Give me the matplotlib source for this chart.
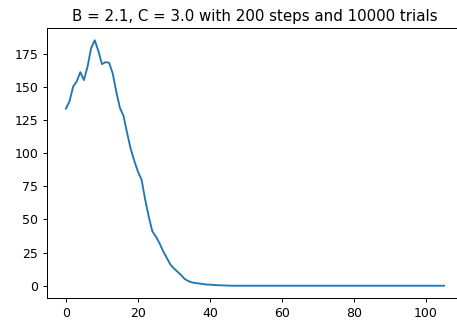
import numpy as np
import matplotlib
matplotlib.use("Agg")
import matplotlib.pyplot as plt

# Mean population per step, averaged over trials
head = [133.5, 139, 150, 154, 161, 155, 165, 179, 185, 177,
        167, 168.5, 168, 160, 146, 134, 128, 115, 103, 94,
        86, 80, 65, 52, 41, 37, 32, 26, 21, 16,
        13, 10.5, 8, 5, 3.5, 2.5, 2, 1.7, 1.3, 0.9,
        0.8, 0.6, 0.4, 0.3, 0.2, 0.1]
tail = [0.0] * (106 - len(head))
population = head + tail
steps = list(range(len(population)))

title = "B = 2.1, C = 3.0 with 200 steps and 10000 trials"

DPI = 90
fig = plt.figure(figsize=(457 / DPI, 322 / DPI), dpi=DPI)
ax = fig.add_axes([47 / 457, 24 / 322, 416 / 457, 270 / 322])
ax.plot(steps, population, color="#1f77b4", linewidth=1.5)
ax.set_title(title)
ax.set_xticks([0, 20, 40, 60, 80, 100])
ax.set_yticks([0, 25, 50, 75, 100, 125, 150, 175])
ax.spines["right"].set_visible(False)
fig.savefig("out.png", dpi=DPI)
